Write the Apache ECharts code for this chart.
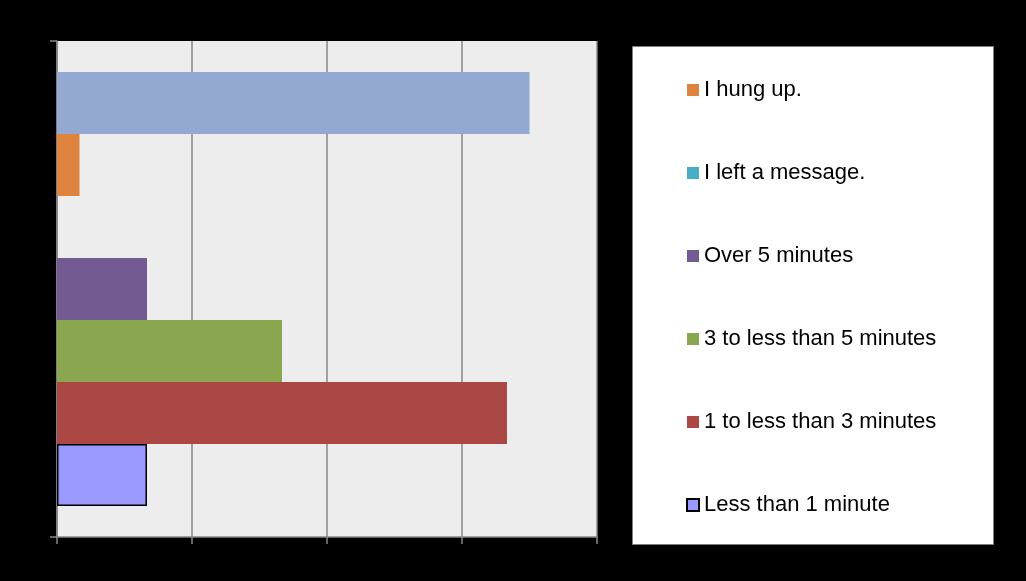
<!DOCTYPE html>
<html>
<head>
<meta charset="utf-8">
<script src="https://cdn.jsdelivr.net/npm/echarts@6/dist/echarts.min.js"></script>
<style>
html,body{margin:0;padding:0;background:#000;}
#chart{width:1026px;height:581px;}
</style>
</head>
<body>
<div id="chart"></div>
<script>
// ---- data (listed top bar first) ----
var categories = [''];
var seriesNames = ['Other', 'I hung up.', 'I left a message.', 'Over 5 minutes', '3 to less than 5 minutes', '1 to less than 3 minutes', 'Less than 1 minute'];
var seriesValues = [21, 1, 0, 4, 10, 20, 4];
var seriesColors = ['#94A9D1', '#DE843F', '#4BACC6', '#735A92', '#8AA64E', '#AB4845', '#9999FF'];
var legendNames = ['I hung up.', 'I left a message.', 'Over 5 minutes', '3 to less than 5 minutes', '1 to less than 3 minutes', 'Less than 1 minute'];
var axisMax = 24;
var axisInterval = 6;

var chart = echarts.init(document.getElementById('chart'));
var axisGray = '#868686';

var series = seriesNames.map(function (name, i) {
  var s = {
    name: name,
    type: 'bar',
    data: [seriesValues[i]],
    barGap: '0%',
    barCategoryGap: '12.5%',
    itemStyle: { color: seriesColors[i] },
    animation: false
  };
  if (name === 'Less than 1 minute') {
    s.itemStyle.borderColor = '#000';
    s.itemStyle.borderWidth = 1.5;
  }
  return s;
});

chart.setOption({
  backgroundColor: '#000',
  animation: false,
  graphic: [{
    type: 'rect',
    shape: { x: 632.5, y: 46.5, width: 361, height: 498 },
    style: { fill: '#fff', stroke: '#7f7f7f', lineWidth: 1 },
    z: -1
  }],
  grid: {
    left: 57, right: 429, top: 41, bottom: 44,
    show: true, backgroundColor: '#EDEDED', borderWidth: 0
  },
  legend: {
    data: legendNames,
    orient: 'vertical',
    left: 681,
    top: 73,
    itemWidth: 12,
    itemHeight: 12,
    itemGap: 59,
    icon: 'rect',
    selectedMode: false,
    textStyle: {
      fontFamily: '"Liberation Sans", Arial, sans-serif',
      fontSize: 22,
      lineHeight: 24,
      color: '#000'
    }
  },
  xAxis: {
    type: 'value',
    min: 0, max: axisMax, interval: axisInterval,
    axisLabel: { show: false },
    axisLine: { show: true, lineStyle: { color: axisGray, width: 1.5 } },
    axisTick: { show: true, length: 7, lineStyle: { color: axisGray, width: 1.5 } },
    splitLine: { show: true, lineStyle: { color: axisGray, width: 1.5 } }
  },
  yAxis: {
    type: 'category',
    data: categories,
    axisLabel: { show: false },
    axisLine: { show: true, lineStyle: { color: axisGray, width: 1.5 } },
    axisTick: { show: true, length: 7, lineStyle: { color: axisGray, width: 1.5 } }
  },
  series: series
});
</script>
</body>
</html>
